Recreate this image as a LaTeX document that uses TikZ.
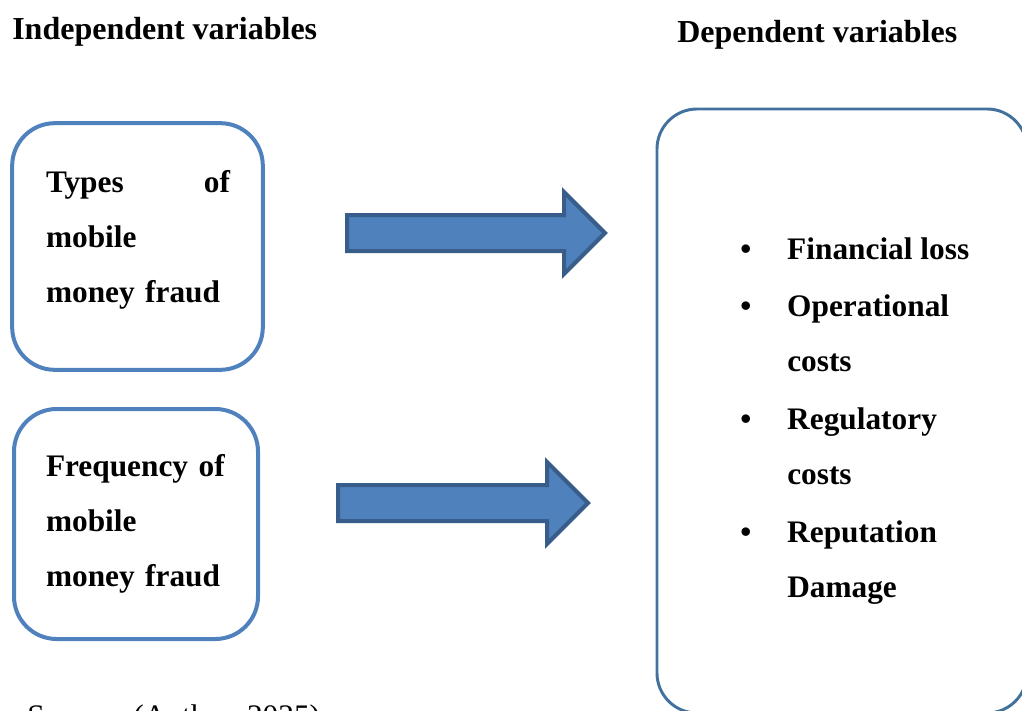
\documentclass[tikz,border=0pt]{standalone}
\usepackage{fontspec}
\setmainfont{Liberation Serif}
\usetikzlibrary{shapes.arrows,positioning}
\definecolor{boxblue}{RGB}{79,129,189}
\definecolor{listblue}{RGB}{65,113,156}
\definecolor{arrowrim}{RGB}{56,93,138}
\newcommand{\bulletmark}{\llap{\textbullet\hspace{27pt}}}

\begin{document}
\begin{tikzpicture}[x=0.75pt,y=-0.75pt,
    varbox/.style={draw=boxblue,line width=3pt,rounded corners=32pt},
    vartext/.style={text width=138pt,align=left,inner sep=0pt,
                    font=\bfseries\fontsize{23.5pt}{41.25pt}\selectfont},
    listbox/.style={draw=listblue,line width=2.2pt,rounded corners=30pt,
                    minimum width=277.5pt,minimum height=453pt},
    bigarrow/.style={single arrow,draw=arrowrim,fill=boxblue,line width=3pt,
                     text height=0pt,text depth=0pt,inner xsep=0pt,
                     inner ysep=12pt,single arrow head extend=17.25pt},
    heading/.style={inner sep=0pt,font=\bfseries\fontsize{24pt}{28pt}\selectfont}]
    \useasboundingbox (0,0) rectangle (1022,711);
    \clip (0,0) rectangle (1022,711);

    \node[heading,anchor=base west] (indep) at (12,39) {Independent variables};
    \node[heading,anchor=base west] (dep) at (677,42) {Dependent variables};

    \node[varbox,minimum width=188pt,minimum height=185pt] (types) at (137.5,246.5) {};
    \node[vartext] (typestext) at (138,240) {Types \hfill of\\mobile\\money fraud};
    \node[varbox,minimum width=183pt,minimum height=172.5pt] (freq) at (136,524) {};
    \node[vartext] (freqtext) at (138,524) {Frequency of\\mobile\\money fraud};

    \node[bigarrow,minimum height=193.5pt,anchor=tail] (typesarrow) at (345,233) {};
    \node[bigarrow,minimum height=187.5pt,anchor=tail] (freqarrow) at (336,503) {};

    \node[listbox] (effects) at (842,411) {};
    \node[anchor=north west,inner sep=0pt,align=left,
          font=\bfseries\fontsize{23.5pt}{41.25pt}\selectfont] (effectlist) at (787,237) {
        \bulletmark Financial loss\\[2pt]
        \bulletmark Operational\\ costs\\[2pt]
        \bulletmark Regulatory\\ costs\\[2pt]
        \bulletmark Reputation\\ Damage};

    \node[anchor=base west,inner sep=0pt,font=\fontsize{23.5pt}{28pt}\selectfont]
        (source) at (27,726) {Source: (Author, 2025)};
\end{tikzpicture}
\end{document}
